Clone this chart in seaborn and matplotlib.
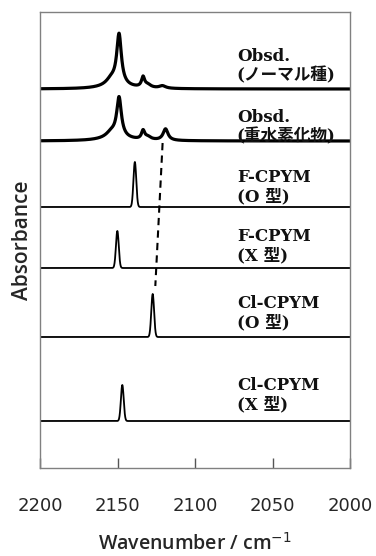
import numpy as np
import pandas as pd
import matplotlib
matplotlib.use("Agg")
import matplotlib.pyplot as plt
import seaborn as sns

# ---- data ----
spectra = ["obs_normal", "obs_deut", "F_O", "F_X", "Cl_O", "Cl_X"]
labels = ["Obsd.\n(ノーマル種)", "Obsd.\n(重水素化物)", "F-CPYM\n(O 型)",
          "F-CPYM\n(X 型)", "Cl-CPYM\n(O 型)", "Cl-CPYM\n(X 型)"]
# observed bands: centre (cm-1), height, half width
obs_normal_centers = [2149.0, 2154.0, 2151.0, 2133.5, 2130.5, 2121.0]
obs_normal_heights = [50.0, 6.0, 3.5, 10.0, 3.0, 2.5]
obs_normal_widths = [1.8, 4.0, 10.0, 1.2, 2.5, 2.5]
obs_deut_centers = [2149.0, 2154.0, 2151.0, 2133.5, 2130.5, 2119.0]
obs_deut_heights = [39.0, 5.0, 3.5, 8.5, 3.0, 11.5]
obs_deut_widths = [1.8, 4.0, 10.0, 1.2, 2.5, 1.9]
# calculated bands
calc_centers = [2138.8, 2150.1, 2127.3, 2146.9]
calc_heights = [45.0, 37.0, 43.0, 36.0]
calc_sigma = 0.9
# vertical offsets of each trace
offsets = [379, 327, 261, 200, 131, 47]
label_y = [402, 341, 281, 222, 155, 73]
xticks = [2200, 2150, 2100, 2050, 2000]
dash_x = [2120.9, 2125.6]
dash_y = [325, 182]

wn = np.arange(2200.0, 1999.95, -0.1)

def lorentz(x, cs, hs, ws):
    y = np.zeros_like(x)
    for c, h, w in zip(cs, hs, ws):
        y += h * w**2 / ((x - c)**2 + w**2)
    return y

def gauss(x, c, h, s):
    return h * np.exp(-0.5 * ((x - c) / s) ** 2)

rows = []
curves = [lorentz(wn, obs_normal_centers, obs_normal_heights, obs_normal_widths),
          lorentz(wn, obs_deut_centers, obs_deut_heights, obs_deut_widths)]
for c, h in zip(calc_centers, calc_heights):
    curves.append(gauss(wn, c, h, calc_sigma))
for name, cur, off in zip(spectra, curves, offsets):
    rows.append(pd.DataFrame({"wn": wn, "y": cur + off, "spec": name}))
df = pd.concat(rows, ignore_index=True)

sns.set_theme(style="white")
plt.rcParams["font.family"] = ["DejaVu Sans", "Noto Sans CJK JP"]

fig = plt.figure(figsize=(3.76, 5.56), dpi=100)
ax = fig.add_axes([40/376, 1-468/556, 310/376, 456/556])

for name in spectra:
    sub = df[df["spec"] == name]
    lw = 2.3 if name.startswith("obs") else 1.3
    sns.lineplot(data=sub, x="wn", y="y", ax=ax, color="black", linewidth=lw,
                 estimator=None, sort=False, legend=False)

ax.plot(dash_x, dash_y, color="black", linewidth=1.5, linestyle=(0, (3.5, 2.5)))

for lab, ly in zip(labels, label_y):
    ax.text(2073, ly, lab, ha="left", va="center", fontsize=12, fontweight="bold",
            family=["DejaVu Serif", "Noto Sans CJK JP"], linespacing=1.15,
            color="#111111")

ax.set_xlim(2200, 2000)
ax.set_ylim(0, 456)
ax.set_xticks(xticks)
ax.set_xticklabels([str(t) for t in xticks], fontsize=13, family="DejaVu Sans")
ax.set_yticks([])
ax.tick_params(axis="x", direction="in", length=7, width=1, color="#555555",
               pad=21, bottom=True)
for s in ax.spines.values():
    s.set_color("#808080")
    s.set_linewidth(1.0)
ax.set_xlabel("Wavenumber / cm$^{-1}$", fontsize=14, family="Open Sans",
              fontweight="semibold", labelpad=13)
ax.set_ylabel("Absorbance", fontsize=15, family="Open Sans",
              fontweight="semibold", labelpad=5)

fig.savefig("out.png", dpi=100)
